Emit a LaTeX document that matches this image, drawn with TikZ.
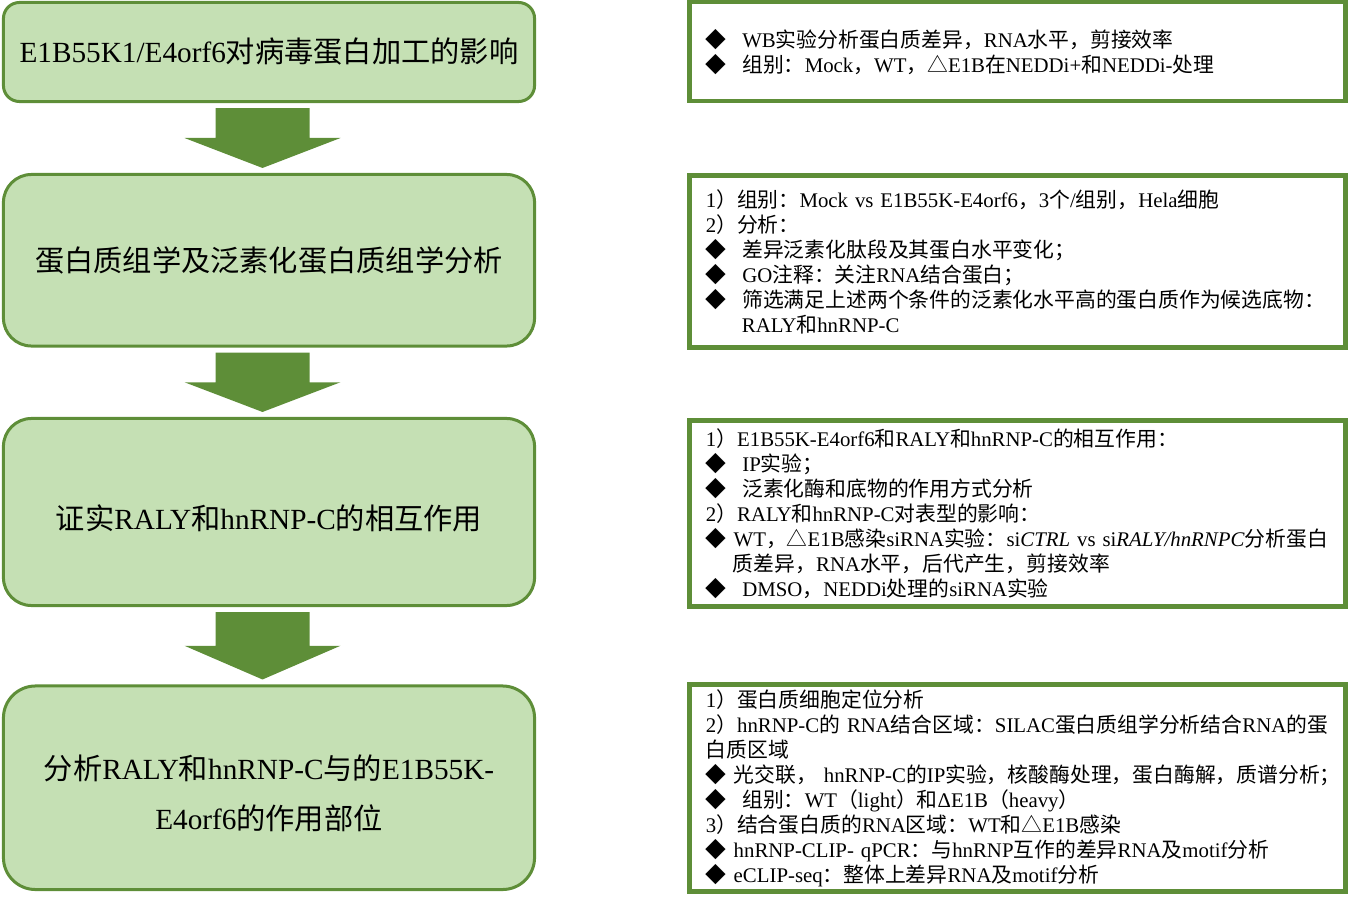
\documentclass[tikz,border=0pt]{standalone}
\usepackage{fontspec}
\setmainfont{Liberation Serif}
\newfontfamily\cjk{Noto Sans CJK SC}
\usetikzlibrary{positioning}
\usetikzlibrary{calc}

% Latin in the serif, Chinese in the CJK family
\XeTeXinterchartokenstate=1
\newXeTeXintercharclass\cjkclass
\newcount\cjkcount
\newcommand\cjkrange[2]{\cjkcount=#1\relax
  \loop\XeTeXcharclass\cjkcount=\cjkclass
  \ifnum\cjkcount<#2\advance\cjkcount by 1\repeat}
\cjkrange{"3000}{"303F}
\cjkrange{"4E00}{"9FFF}
\cjkrange{"FF00}{"FFEF}
\cjkrange{"25B3}{"25B3}
\cjkrange{"25C6}{"25C6}
\XeTeXinterchartoks 0 \cjkclass = {\cjk}
\XeTeXinterchartoks 4095 \cjkclass = {\cjk}
\XeTeXinterchartoks \cjkclass 0 = {\rmfamily}
\XeTeXinterchartoks \cjkclass 4095 = {\rmfamily}

\definecolor{flowgreen}{RGB}{94,142,56}
\definecolor{boxgreen}{RGB}{197,224,180}
\newcommand\dia[1][0.39cm]{◆\hspace{#1}}

\tikzset{
  stage/.style={draw=flowgreen, fill=boxgreen, line width=0.075cm, rounded corners=0.7cm,
    minimum width=13.275cm, align=center, font=\fontsize{20.8pt}{35.5pt}\selectfont},
  notebox/.style={draw=flowgreen, line width=0.1125cm, minimum width=16.4cm,
    text width=15.575cm, inner xsep=0.4125cm, align=left, font=\fontsize{14.8pt}{17.8pt}\selectfont},
  flow/.style={fill=flowgreen},
}

\begin{document}
\begin{tikzpicture}[x=0.025cm, y=-0.025cm]
				\useasboundingbox (0,0) rectangle (1351,901);
				
				\node[stage, rounded corners=0.4cm, minimum height=2.475cm] (L1) at (269,52) {E1B55K1/E4orf6对病毒蛋白加工的影响};
				\node[stage, minimum height=4.2875cm] (L2) at (269,260.25) {蛋白质组学及泛素化蛋白质组学分析};
				\node[stage, minimum height=4.675cm, text height=26.8pt] (L3) at (269,512) {证实RALY和hnRNP-C的相互作用};
				\node[stage, rounded corners=0.8cm, minimum height=5.0875cm, text height=61pt] (L4) at (269,787.75) {分析RALY和hnRNP-C与的E1B55K-\\E4orf6的作用部位};
				
				\node[notebox, minimum height=2.4625cm, text height=14pt] (R1) at (1017.5,51.5) {\dia WB实验分析蛋白质差异，RNA水平，剪接效率\\
					\dia 组别：Mock，WT，△E1B在NEDDi+和NEDDi-处理};
				\node[notebox, minimum height=4.3cm] (R2) at (1017.5,261.5) {1）组别：Mock vs E1B55K-E4orf6，3个/组别，Hela细胞\\
					2）分析：\\
					\dia 差异泛素化肽段及其蛋白水平变化；\\
					\dia GO注释：关注RNA结合蛋白；\\
					\dia 筛选满足上述两个条件的泛素化水平高的蛋白质作为候选底物：\\
					\hspace*{0.9cm}RALY和hnRNP-C};
				\node[notebox, minimum height=4.65cm] (R3) at (1017.5,513.5) {1）E1B55K-E4orf6和RALY和hnRNP-C的相互作用：\\
					\dia IP实验；\\
					\dia 泛素化酶和底物的作用方式分析\\
					2）RALY和hnRNP-C对表型的影响：\\
					\dia[0.175cm]WT，△E1B感染siRNA实验：si\textit{CTRL} vs si\textit{RALY/hnRNPC}分析蛋白\\
					\hspace*{0.675cm}质差异，RNA水平，后代产生，剪接效率\\
					\dia DMSO，NEDDi处理的siRNA实验};
				\node[notebox, minimum height=5.125cm] (R4) at (1017.5,788) {1）蛋白质细胞定位分析\\
					2）hnRNP-C的 RNA结合区域：SILAC蛋白质组学分析结合RNA的蛋\\
					白质区域\\
					\dia[0.175cm]光交联， hnRNP-C的IP实验，核酸酶处理，蛋白酶解，质谱分析；\\
					\dia 组别：WT（light）和ΔE1B（heavy）\\
					3）结合蛋白质的RNA区域：WT和△E1B感染\\
					\dia[0.175cm]hnRNP-CLIP- qPCR：与hnRNP互作的差异RNA及motif分析\\
					\dia[0.175cm]eCLIP-seq：整体上差异RNA及motif分析};
				
				% block arrows between the stages
				\foreach \a/\b in {L1/L2, L2/L3, L3/L4} {
					\coordinate (s) at ($(\a.south)+(-6.5,5)$);
					\coordinate (t) at ($(\b.north)+(-6.5,-5)$);
					\coordinate (m) at ($(s)!0.5!(t)$);
					\fill[flow] ($(s)+(-47,0)$) -- ($(s)+(47,0)$) -- ($(m)+(47,0)$) -- ($(m)+(78,0)$)
						-- (t) -- ($(m)+(-78,0)$) -- ($(m)+(-47,0)$) -- cycle;
				}
			\end{tikzpicture}
\end{document}
